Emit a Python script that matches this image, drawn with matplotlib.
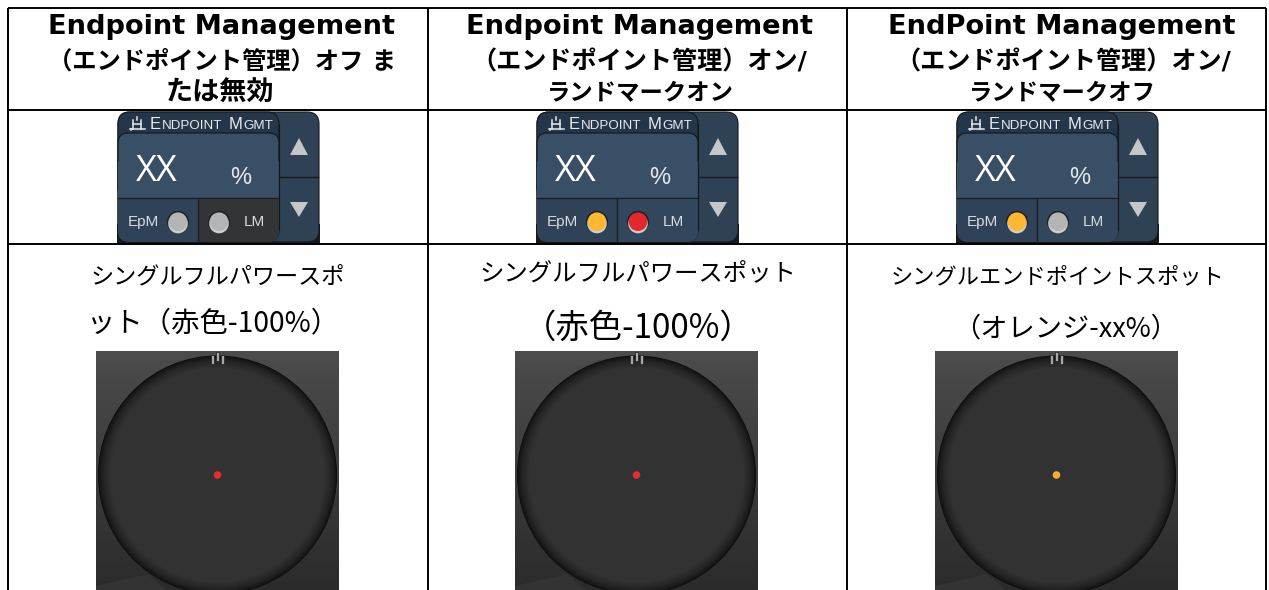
import numpy as np
import matplotlib
matplotlib.use('Agg')
import matplotlib.pyplot as plt
from matplotlib.colors import LinearSegmentedColormap, to_rgb
from matplotlib.patches import Circle, FancyBboxPatch, Polygon, Rectangle

plt.rcParams['font.family'] = ['DejaVu Sans', 'Noto Sans CJK JP']

headers = [
    ['Endpoint Management', '\uff08エンドポイント管理\uff09オフ ま', 'たは無効'],
    ['Endpoint Management', '\uff08エンドポイント管理\uff09オン/', 'ランドマークオン'],
    ['EndPoint Management', '\uff08エンドポイント管理\uff09オン/', 'ランドマークオフ'],
]
captions = [
    ['シングルフルパワースポ', 'ット\uff08赤色-100%\uff09'],
    ['シングルフルパワースポット', '\uff08赤色-100%\uff09'],
    ['シングルエンドポイントスポット', '\uff08オレンジ-xx%\uff09'],
]
epm_colors = ['#b4b4b4', '#fdb733', '#fdb733']
lm_colors = ['#b4b4b4', '#e2282c', '#b4b4b4']
lm_backs = ['#323436', '#33475c', '#33475c']
spot_colors = ['#e52c2f', '#e52c2f', '#fbae2e']

# layout of the text
header_x = [[221, 222, 220], [640, 639.5, 640], [1062, 1063, 1062]]
header_y = [27, 62, 94]
header_sizes = [[19.6, 17.5, 19.5], [19.6, 18.1, 16.8], [19.6, 18.1, 16.8]]
caption_x = [[218, 214], [638, 638], [1058, 1066]]
caption_y = [[277, 323], [273, 328], [277, 329]]
caption_sizes = [[16.7, 20.4], [17.6, 24], [16, 19.6]]

col_lines = [8, 428, 847, 1266]
row_lines = [8, 110, 244]
col_mid = [218, 637, 1057]
panel_x = [117, 536, 956]

fig = plt.figure(figsize=(12.69, 5.90), dpi=100)
ax = fig.add_axes([0, 0, 1, 1])
ax.set_xlim(0, 1269)
ax.set_ylim(590, 0)
ax.axis('off')


def round_box(x, y, w, h, r, color, z, edge='none'):
    ax.add_patch(FancyBboxPatch((x + r, y + r), w - 2 * r, h - 2 * r,
                                boxstyle='round,pad=%f,rounding_size=%f' % (r, r),
                                fc=color, ec=edge, lw=0.8, zorder=z))


def small_caps(x, y, z):
    parts = [('E', 12), ('NDPOINT', 9.6), (' ', 9.6), ('M', 12), ('GMT', 9.6)]
    r = fig.canvas.get_renderer()
    for s, size in parts:
        if s == ' ':
            x += 6
            continue
        t = ax.text(x, y, s, color='#e8eaec', fontsize=size, va='baseline', ha='left',
                    family=['Liberation Sans'], zorder=z)
        x += t.get_window_extent(r).width + 0.6


def icon(x, y, z):
    # little gantry symbol in front of the title
    segs = [([x, x + 15], [y + 12, y + 12]), ([x + 3, x + 3], [y + 3, y + 12]),
            ([x + 11, x + 11], [y + 3, y + 12]), ([x + 3, x + 11], [y + 7, y + 7]),
            ([x + 7, x + 7], [y, y + 3]), ([x + 1, x + 1], [y + 12, y + 13])]
    for xs, ys in segs:
        ax.plot(xs, ys, color='#e8eaec', lw=1.1, zorder=z)


def led(x, y, color, z):
    ax.add_patch(Circle((x, y), 11, fc='#1d2023', ec='none', zorder=z))
    ax.add_patch(Circle((x, y + 1.5), 9.8, fc='#cfcfcf', ec='none', zorder=z + 0.1))
    ax.add_patch(Circle((x, y - 0.3), 9.3, fc=color, ec='none', zorder=z + 0.2))


def panel(x0, epm, lm, lm_back):
    y0 = 112
    ax.add_patch(Rectangle((x0, y0 + 112), 203, 20, fc='#17191b', ec='none', zorder=2))
    round_box(x0 + 1, y0, 201, 130, 12, '#2f4155', 2.1, '#15181b')
    # left block
    round_box(x0 + 1, y0, 161, 130, 12, '#24364a', 2.2, '#14171a')
    icon(x0 + 13, y0 + 5, 3)
    small_caps(x0 + 33, y0 + 17, 3)
    round_box(x0 + 1, y0 + 90, 161, 40, 11, '#2f4258', 2.25)
    ax.add_patch(Rectangle((x0 + 1, y0 + 86), 161, 20, fc='#2f4258', ec='none', zorder=2.25))
    round_box(x0 + 1, y0 + 21, 161, 65, 10, '#394f66', 2.3, '#14171a')
    ax.add_patch(Rectangle((x0 + 1, y0 + 50), 161, 36, fc='#394f66', ec='none', zorder=2.3))
    ax.plot([x0 + 1, x0 + 162], [y0 + 86, y0 + 86], color='#1b1e21', lw=1, zorder=2.4)
    # lower buttons
    round_box(x0 + 81, y0 + 100, 81, 30, 11, lm_back, 2.4)
    ax.add_patch(Rectangle((x0 + 81, y0 + 86.5), 81, 22, fc=lm_back, ec='none', zorder=2.41))
    ax.add_patch(Rectangle((x0 + 81, y0 + 86.5), 30, 43.5, fc=lm_back, ec='none', zorder=2.41))
    ax.plot([x0 + 81, x0 + 81], [y0 + 86, y0 + 130], color='#1b1e21', lw=1, zorder=2.5)
    ax.plot([x0 + 162, x0 + 162], [y0 + 12, y0 + 118], color='#14171a', lw=0.8, zorder=2.5)
    ax.text(x0 + 39.5, y0 + 60, 'XX', color='white', fontsize=26, ha='center', va='center',
            family=['Open Sans'], zorder=3)
    ax.text(x0 + 124, y0 + 66, '%', color='#e6e8ea', fontsize=17, ha='center', va='center',
            family=['Liberation Sans'], zorder=3)
    ax.text(x0 + 26, y0 + 110, 'EpM', color='#d8dadc', fontsize=11, ha='center', va='center',
            family=['Liberation Sans'], zorder=3)
    ax.text(x0 + 137, y0 + 110, 'LM', color='#d8dadc', fontsize=11, ha='center', va='center',
            family=['Liberation Sans'], zorder=3)
    led(x0 + 61, y0 + 110, epm, 3)
    led(x0 + 102, y0 + 110, lm, 3)
    # arrows
    ax.plot([x0 + 162, x0 + 201], [y0 + 65, y0 + 65], color='#191c1f', lw=1, zorder=2.5)
    ax.add_patch(Polygon([[x0 + 182, y0 + 26], [x0 + 173, y0 + 43], [x0 + 191, y0 + 43]],
                         fc='#c4c6c8', ec='none', zorder=3))
    ax.add_patch(Polygon([[x0 + 182, y0 + 105], [x0 + 173, y0 + 90], [x0 + 191, y0 + 90]],
                         fc='#c4c6c8', ec='none', zorder=3))


def scope(cx, spot):
    cy = 475
    x0 = cx - 122
    grad = np.linspace(0, 1, 240).reshape(-1, 1)
    ax.imshow(grad, extent=(x0, x0 + 243, 590, 351), aspect='auto', zorder=2,
              cmap=LinearSegmentedColormap.from_list('bg', ['#4c4c4c', '#2b2b2b']))
    ax.add_patch(Polygon([[x0, 590], [x0, 586], [x0 + 52, 574], [x0 + 70, 590]],
                         fc='#333333', ec='none', zorder=2.5))
    dark = np.array(to_rgb('#0b0b0b'))
    light = np.array(to_rgb('#323232'))
    radii = np.arange(119.5, 107, -0.5)
    for k, r in enumerate(radii):
        c = dark + (light - dark) * (k / (len(radii) - 1)) ** 0.55
        ax.add_patch(Circle((cx - 0.5, cy), r, fc=tuple(c), ec='none', zorder=3 + k * 0.001))
    ax.add_patch(Circle((cx - 0.5, cy), 3.8, fc=spot, ec='none', zorder=4))
    for dx, top, bottom in [(-5, 355, 364), (0, 352, 361), (5, 355, 364)]:
        ax.add_patch(Rectangle((cx + dx - 2.2, top), 3.6, bottom - top, fc='#a8a8a8',
                               ec='#1e1e1e', lw=0.5, zorder=4))


for i in range(3):
    for j, line in enumerate(headers[i]):
        ax.text(header_x[i][j], header_y[j], line, fontsize=header_sizes[i][j], fontweight='bold',
                ha='center', va='center', color='black', zorder=5)
    panel(panel_x[i], epm_colors[i], lm_colors[i], lm_backs[i])
    for j, line in enumerate(captions[i]):
        ax.text(caption_x[i][j], caption_y[i][j], line, fontsize=caption_sizes[i][j], ha='center', va='center',
                color='black', family=['Noto Sans CJK JP'], zorder=5)
    scope(col_mid[i], spot_colors[i])

ax.set_xlim(0, 1269)
ax.set_ylim(590, 0)

for x in col_lines:
    ax.plot([x, x], [8, 590], color='black', lw=1.4, zorder=6, solid_capstyle='butt')
for y in row_lines:
    ax.plot([8, 1266], [y, y], color='black', lw=1.4, zorder=6, solid_capstyle='butt')

fig.savefig('out.png', dpi=100, facecolor='white')
